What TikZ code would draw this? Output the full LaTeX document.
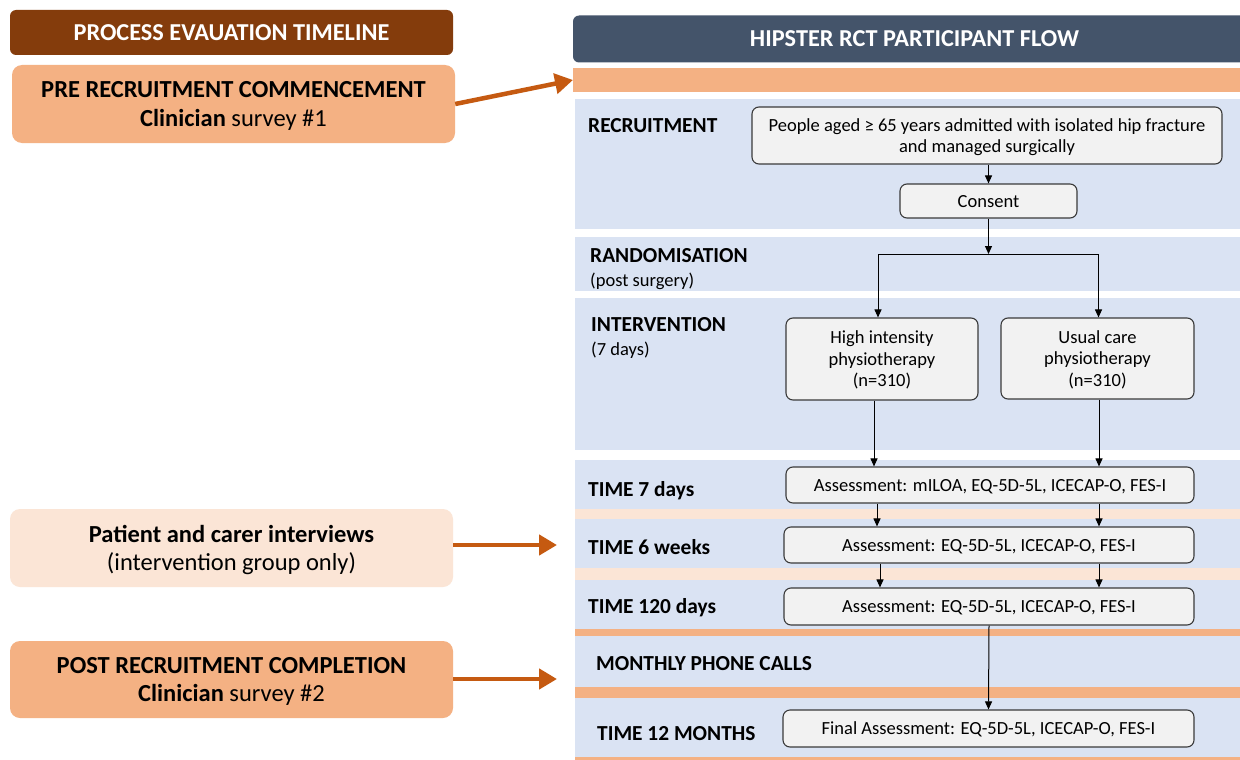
\documentclass[tikz,border=0pt]{standalone}
\usepackage{fontspec}
\setmainfont{Carlito}
\usetikzlibrary{arrows.meta}
\definecolor{brownhdr}{HTML}{843C0C}
\definecolor{navyhdr}{HTML}{44546A}
\definecolor{orangeband}{HTML}{F4B183}
\definecolor{peach}{HTML}{FBE5D6}
\definecolor{bandblue}{HTML}{DAE3F3}
\definecolor{boxgray}{HTML}{F2F2F2}
\definecolor{arrorange}{HTML}{C55A11}
\definecolor{boxline}{HTML}{3A3A3A}
\begin{document}
\begin{tikzpicture}[x=1pt,y=-1pt,
  hdr/.style={rounded corners=6pt, text=white, inner sep=0pt, text depth=0pt, font=\bfseries\fontsize{24.3}{28}\selectfont},
  leftbox/.style={rounded corners=10pt, align=center, inner sep=0pt, text depth=0pt, minimum width=443pt, font=\fontsize{24.5}{28.5}\selectfont},
  flowbox/.style={draw=boxline, fill=boxgray, rounded corners=7pt, line width=1.1pt, align=center, inner sep=0pt, text depth=0pt, font=\fontsize{18.5}{21.5}\selectfont},
  lbl/.style={anchor=west, inner sep=0pt, text depth=0pt, font=\bfseries\fontsize{21.4}{25}\selectfont},
  sublbl/.style={anchor=west, inner sep=0pt, text depth=0pt, font=\fontsize{18.5}{22}\selectfont},
  flow/.style={-{Triangle[length=8pt,width=7pt]}, line width=1pt, draw=black},
  bigarrow/.style={-{Triangle[length=18pt,width=20pt]}, line width=4.5pt, draw=arrorange}
]
\useasboundingbox (0,0) rectangle (1240,760);
\fill[white] (0,0) rectangle (1240,760);

% ---------- left column ----------
\node[hdr, fill=brownhdr, minimum width=443pt, minimum height=45pt] (lhdr) at (231.5,32.5) {PROCESS EVAUATION TIMELINE};
\node[leftbox, fill=orangeband, minimum height=78pt] (pre) at (233.5,104)
  {\textbf{PRE RECRUITMENT COMMENCEMENT}\\\textbf{Clinician} survey \#1};
\node[leftbox, fill=peach, minimum height=78pt] (pat) at (231.5,548)
  {\textbf{Patient and carer interviews}\\(intervention group only)};
\node[leftbox, fill=orangeband, minimum height=77pt] (post) at (231.5,679.5)
  {\textbf{POST RECRUITMENT COMPLETION}\\\textbf{Clinician} survey \#2};

% ---------- right column bands ----------
\node[hdr, fill=navyhdr, minimum width=683pt, minimum height=47pt] (rhdr) at (914.5,39)
  {HIPSTER RCT PARTICIPANT FLOW};
\fill[orangeband] (573,68) rectangle (1240,92);
\coordinate (topband) at (573,80);
\fill[bandblue] (575,99) rectangle (1240,229);
\fill[bandblue] (575,237) rectangle (1240,291);
\fill[bandblue] (575,298) rectangle (1240,450);
\fill[bandblue] (575,460) rectangle (1240,509);
\fill[peach] (575,509) rectangle (1240,519);
\fill[bandblue] (575,519) rectangle (1240,568);
\fill[peach] (575,568) rectangle (1240,580);
\fill[bandblue] (575,580) rectangle (1240,629);
\fill[orangeband] (575,629) rectangle (1240,636);
\fill[bandblue] (575,636) rectangle (1240,687);
\fill[orangeband] (575,687) rectangle (1240,698);
\fill[bandblue] (575,698) rectangle (1240,757);
\fill[orangeband] (575,757) rectangle (1240,760);

% ---------- stage labels ----------
\node[lbl] (lrec) at (588,125) {RECRUITMENT};
\node[lbl] (lrand) at (590,255) {RANDOMISATION};
\node[sublbl] (lrands) at (590,280) {(post surgery)};
\node[lbl] (lint) at (591,324) {INTERVENTION};
\node[sublbl] (lints) at (591,349) {(7 days)};
\node[lbl] (lt7) at (588,489) {TIME 7 days};
\node[lbl] (lt6) at (588,547) {TIME 6 weeks};
\node[lbl] (lt120) at (588,606) {TIME 120 days};
\node[lbl] (lmon) at (596,663) {MONTHLY PHONE CALLS};
\node[lbl] (lt12) at (597,733) {TIME 12 MONTHS};

% ---------- flow boxes ----------
\node[flowbox, minimum width=470pt, minimum height=57pt] (people) at (987,135.5)
  {People aged ≥ 65 years admitted with isolated hip fracture\\and managed surgically};
\node[flowbox, minimum width=177pt, minimum height=34pt] (consent) at (988.5,201) {Consent};
\node[flowbox, minimum width=192pt, minimum height=82pt] (high) at (882,359)
  {High intensity\\physiotherapy\\(n=310)};
\node[flowbox, minimum width=193pt, minimum height=81pt] (usual) at (1097.5,358.5)
  {Usual care\\physiotherapy\\(n=310)};
\node[flowbox, minimum width=408pt, minimum height=36pt] (t7box) at (990,485)
  {Assessment: mILOA, EQ-5D-5L, ICECAP-O, FES-I};
\node[flowbox, minimum width=410pt, minimum height=36pt] (t6box) at (989,545)
  {Assessment: EQ-5D-5L, ICECAP-O, FES-I};
\node[flowbox, minimum width=410pt, minimum height=37pt] (t120box) at (989,606.5)
  {Assessment: EQ-5D-5L, ICECAP-O, FES-I};
\node[flowbox, minimum width=411pt, minimum height=37pt] (t12box) at (988.5,728.5)
  {Final Assessment: EQ-5D-5L, ICECAP-O, FES-I};

% ---------- connectors ----------
\coordinate (j) at (988.5,254);
\draw[flow] (consent.north |- people.south) -- (consent.north);
\draw[flow] (consent.south) -- (j);
\draw[flow] (j) -| ([xshift=-4pt]high.north);
\draw[flow] (j) -| ([xshift=1pt]usual.north);
\draw[flow] ([xshift=-8pt]high.south) -- ([xshift=-8pt]high.south |- t7box.north);
\draw[flow] ([xshift=1.5pt]usual.south) -- ([xshift=1.5pt]usual.south |- t7box.north);
\draw[flow] ([xshift=-113pt]t7box.south) -- ([xshift=-113pt]t7box.south |- t6box.north);
\draw[flow] ([xshift=109pt]t7box.south) -- ([xshift=109pt]t7box.south |- t6box.north);
\draw[flow] ([xshift=-109pt]t6box.south) -- ([xshift=-109pt]t6box.south |- t120box.north);
\draw[flow] ([xshift=110pt]t6box.south) -- ([xshift=110pt]t6box.south |- t120box.north);
\draw[flow] (t120box.south) -- (t12box.north);

% ---------- process arrows ----------
\coordinate (a6) at (557,545);
\coordinate (a12) at (557,679);
\draw[bigarrow] (pre.east) -- (topband);
\draw[bigarrow] (pat.east |- a6) -- (a6);
\draw[bigarrow] (post.east |- a12) -- (a12);
\end{tikzpicture}
\end{document}
